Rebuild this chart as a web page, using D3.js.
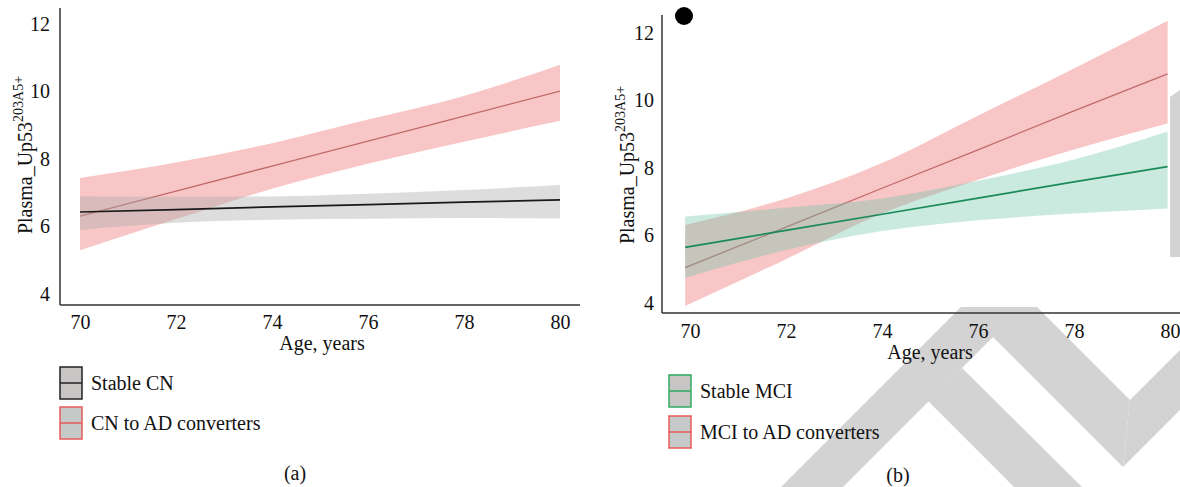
<!DOCTYPE html>
<html>
<head>
<meta charset="utf-8">
<script src="https://cdn.jsdelivr.net/npm/d3@7"></script>
<style>
  body { margin: 0; background: #fff; }
  svg text { font-family: "Liberation Serif", "DejaVu Serif", serif; fill: #111; }
  .axis path { stroke: #333; stroke-width: 1.5px; }
  .axis line { display: none; }
  .axis text { font-size: 20px; }
</style>
</head>
<body>
<script>
// ---- data ----
var xTicks = [70, 72, 74, 76, 78, 80];
var yTicks = [4, 6, 8, 10, 12];

// panel (a)
var agesA = [70, 72, 74, 76, 78, 80];
var stableCN_fit = [6.43, 6.50, 6.58, 6.65, 6.72, 6.79];
var stableCN_hi  = [6.90, 6.88, 6.89, 6.97, 7.08, 7.23];
var stableCN_lo  = [5.90, 6.11, 6.20, 6.23, 6.25, 6.24];
var cnAD_fit = [6.31, 7.05, 7.79, 8.53, 9.27, 10.01];
var cnAD_hi  = [7.44, 7.90, 8.47, 9.17, 9.87, 10.79];
var cnAD_lo  = [5.30, 6.22, 7.12, 7.86, 8.51, 9.13];

// panel (b)
var agesB = [69.9, 72, 74, 76, 78, 79.95];
var stableMCI_fit = [5.65, 6.15, 6.63, 7.11, 7.59, 8.04];
var stableMCI_hi  = [6.56, 6.82, 7.10, 7.62, 8.25, 9.08];
var stableMCI_lo  = [4.75, 5.57, 6.13, 6.45, 6.65, 6.80];
var mciAD_fit = [5.05, 6.25, 7.40, 8.54, 9.69, 10.79];
var mciAD_hi  = [6.31, 7.10, 8.15, 9.55, 10.95, 12.36];
var mciAD_lo  = [3.91, 5.30, 6.65, 7.65, 8.55, 9.32];

var svg = d3.select('body').append('svg')
  .attr('width', 1180).attr('height', 487);

// retraction watermark shapes (background decoration)
var watermark = [
  [[781,487],[843,487],[1023,307],[961,307]],
  [[928,401],[962,368],[1082,487],[1014,487]],
  [[963,307],[1037,307],[1130,400],[1123,467]],
  [[1130,400],[1180,350],[1180,410],[1123,467]],
  [[1170,97],[1180,90],[1180,257],[1170,257]]
];
svg.append('g').selectAll('path').data(watermark).enter().append('path')
  .attr('d', function(d) { return 'M' + d.join('L') + 'Z'; })
  .attr('fill', '#d3d3d3');

function series(ages, fit, lo, hi) {
  return ages.map(function(a, i) { return {age: a, fit: fit[i], lo: lo[i], hi: hi[i]}; });
}

function panel(p) {
  var g = svg.append('g');
  var x = d3.scaleLinear().domain([70, 80]).range(p.xr);
  var y = d3.scaleLinear().domain([4, 12]).range(p.yr);

  var area = d3.area().curve(d3.curveMonotoneX)
    .x(function(d) { return x(d.age); })
    .y0(function(d) { return y(d.lo); })
    .y1(function(d) { return y(d.hi); });
  var line = d3.line()
    .x(function(d) { return x(d.age); })
    .y(function(d) { return y(d.fit); });

  // converters first, stable group drawn above
  g.append('path').datum(p.conv).attr('d', area)
    .attr('fill', '#f08080').attr('fill-opacity', 0.45);
  g.append('path').datum(p.conv).attr('d', line)
    .attr('fill', 'none').attr('stroke', '#c06a6a').attr('stroke-width', 1.3);
  g.append('path').datum(p.stable).attr('d', area)
    .attr('fill', p.stableFill).attr('fill-opacity', p.stableOpacity);
  g.append('path').datum(p.stable).attr('d', line)
    .attr('fill', 'none').attr('stroke', p.stableLine).attr('stroke-width', 1.7);

  // axes
  g.append('g').attr('class', 'axis')
    .attr('transform', 'translate(0,' + p.xAxisY + ')')
    .call(d3.axisBottom(x).tickValues(xTicks).tickSize(0).tickPadding(p.xPad)
      .tickSizeOuter(0))
    .select('.domain').attr('d', 'M' + p.yAxisX + ',0H' + p.xEnd);
  g.append('g').attr('class', 'axis')
    .attr('transform', 'translate(' + p.yAxisX + ',0)')
    .call(d3.axisLeft(y).tickValues(yTicks).tickSize(0).tickPadding(p.yPad)
      .tickSizeOuter(0))
    .select('.domain').attr('d', 'M0,' + p.yTop + 'V' + p.xAxisY);

  g.append('text').attr('x', p.xTitle[0]).attr('y', p.xTitle[1])
    .attr('text-anchor', 'middle').attr('font-size', 20).text('Age, years');

  var yt = g.append('text')
    .attr('transform', 'translate(' + p.yTitle[0] + ',' + p.yTitle[1] + ') rotate(-90)')
    .attr('text-anchor', 'middle').attr('font-size', 20);
  yt.append('tspan').text('Plasma_Up53');
  yt.append('tspan').attr('dy', -9).attr('font-size', 14).text('203A5+');

  // legend
  p.legend.forEach(function(l, i) {
    var ly = p.legY + i * p.legStep;
    g.append('rect').attr('x', p.legX).attr('y', ly)
      .attr('width', 22).attr('height', 32)
      .attr('fill', l.fill).attr('stroke', l.stroke).attr('stroke-width', 1.5);
    g.append('line').attr('x1', p.legX).attr('x2', p.legX + 22)
      .attr('y1', ly + 16).attr('y2', ly + 16)
      .attr('stroke', l.stroke).attr('stroke-width', 1.5);
    g.append('text').attr('x', p.legX + 31).attr('y', ly + 23)
      .attr('font-size', 20).text(l.label);
  });

  g.append('text').attr('x', p.tag[0]).attr('y', p.tag[1])
    .attr('text-anchor', 'middle').attr('font-size', 20).text(p.tagText);
  return g;
}

panel({
  xr: [80, 560], yr: [294, 24], xAxisY: 305, yAxisX: 60, yTop: 8, xEnd: 580,
  xPad: 10, yPad: 10,
  xTitle: [322, 350], yTitle: [32, 155],
  conv: series(agesA, cnAD_fit, cnAD_lo, cnAD_hi),
  stable: series(agesA, stableCN_fit, stableCN_lo, stableCN_hi),
  stableFill: '#a9abab', stableOpacity: 0.4, stableLine: '#1a1a1a',
  legX: 60, legY: 367, legStep: 40,
  legend: [
    {label: 'Stable CN', fill: '#c9c5c5', stroke: '#222'},
    {label: 'CN to AD converters', fill: '#c5c9c7', stroke: '#e8595a'}
  ],
  tag: [295, 480], tagText: '(a)'
});

var pb = panel({
  xr: [690, 1170], yr: [303, 33], xAxisY: 313, yAxisX: 662, yTop: 15, xEnd: 1180,
  xPad: 11, yPad: 8,
  xTitle: [930, 359], yTitle: [634, 165],
  conv: series(agesB, mciAD_fit, mciAD_lo, mciAD_hi),
  stable: series(agesB, stableMCI_fit, stableMCI_lo, stableMCI_hi),
  stableFill: '#66c2a5', stableOpacity: 0.35, stableLine: '#1b8a5a',
  legX: 669, legY: 375, legStep: 41,
  legend: [
    {label: 'Stable MCI', fill: '#c9c5c5', stroke: '#2eaa62'},
    {label: 'MCI to AD converters', fill: '#c5c9c7', stroke: '#e8595a'}
  ],
  tag: [898, 482], tagText: '(b)'
});

pb.append('circle').attr('cx', 684).attr('cy', 16).attr('r', 9).attr('fill', '#000');
</script>
</body>
</html>
